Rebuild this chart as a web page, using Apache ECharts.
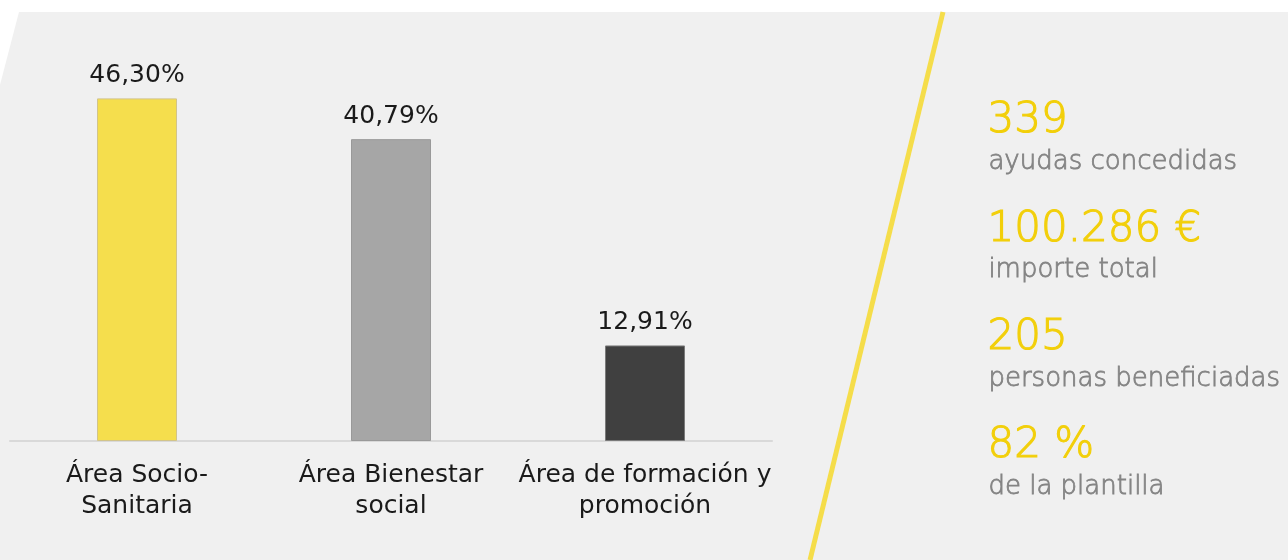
<!DOCTYPE html>
<html>
<head>
<meta charset="utf-8">
<script src="https://cdn.jsdelivr.net/npm/echarts@6/dist/echarts.min.js"></script>
<style>
  html, body { margin: 0; padding: 0; background: #ffffff; }
  #chart { width: 1288px; height: 560px; }
</style>
</head>
<body>
<div id="chart"></div>
<script>
// Distribution of granted aid by area (percent of total)
const categories = ['Área Socio-\nSanitaria', 'Área Bienestar\nsocial', 'Área de formación y\npromoción'];
const shares = [46.30, 40.79, 12.91];
const barColors = ['#f5de4d', '#a6a6a6', '#404040'];
const barBorders = ['#d2c48a', '#999999', '#7a7a7a'];

// Key figures shown in the side panel
const statValues = ['339', '100.286 €', '205', '82 %'];
const statLabels = ['ayudas concedidas', 'importe total', 'personas beneficiadas', 'de la plantilla'];

const fmt = v => v.toFixed(2).replace('.', ',') + '%';

const chart = echarts.init(document.getElementById('chart'), null, { renderer: 'canvas' });

const statGraphics = [];
statValues.forEach((v, i) => {
  const y0 = 118 + i * 108.3;
  statGraphics.push({
    type: 'text', left: 987, top: y0 - 18, z: 5,
    style: {
      text: v, fill: '#f2cf0a', font: '200 42px "DejaVu Sans"',
      stroke: '#f2cf0a', lineWidth: 1.1
    }
  });
  statGraphics.push({
    type: 'text', left: 988, top: y0 + 31, z: 5,
    style: {
      text: statLabels[i], fill: '#848484', font: '200 26px "DejaVu Sans"',
      stroke: '#848484', lineWidth: 0.8
    }
  });
});

chart.setOption({
  backgroundColor: '#ffffff',
  animation: false,
  grid: { left: 10, right: 516, top: 71, bottom: 119, containLabel: false },
  xAxis: {
    type: 'category',
    data: categories,
    axisLine: { show: true, lineStyle: { color: '#d9d9d9', width: 2 } },
    axisTick: { show: false },
    axisLabel: {
      color: '#1a1a1a', fontSize: 25, fontFamily: 'DejaVu Sans',
      lineHeight: 31, margin: 19, interval: 0
    }
  },
  yAxis: {
    type: 'value', min: 0, max: 50,
    show: false, splitLine: { show: false }
  },
  series: [{
    type: 'bar',
    barWidth: 80,
    data: shares.map((v, i) => ({
      value: v,
      itemStyle: { color: barColors[i], borderColor: barBorders[i], borderWidth: 1 }
    })),
    label: {
      show: true, position: 'top', distance: 10,
      color: '#1a1a1a', fontSize: 25, fontFamily: 'DejaVu Sans',
      formatter: p => fmt(p.value)
    }
  }],
  graphic: [
    // light panel with a slanted top-left corner
    {
      type: 'polygon', z: -10, silent: true,
      shape: { points: [[19, 12], [1288, 12], [1288, 560], [0, 560], [0, 85]] },
      style: { fill: '#f0f0f0' }
    },
    // yellow diagonal divider
    {
      type: 'line', z: 4, silent: true,
      shape: { x1: 943, y1: 12, x2: 810, y2: 560 },
      style: { stroke: '#f5dd4a', lineWidth: 5 }
    },
    ...statGraphics
  ]
});
</script>
</body>
</html>
